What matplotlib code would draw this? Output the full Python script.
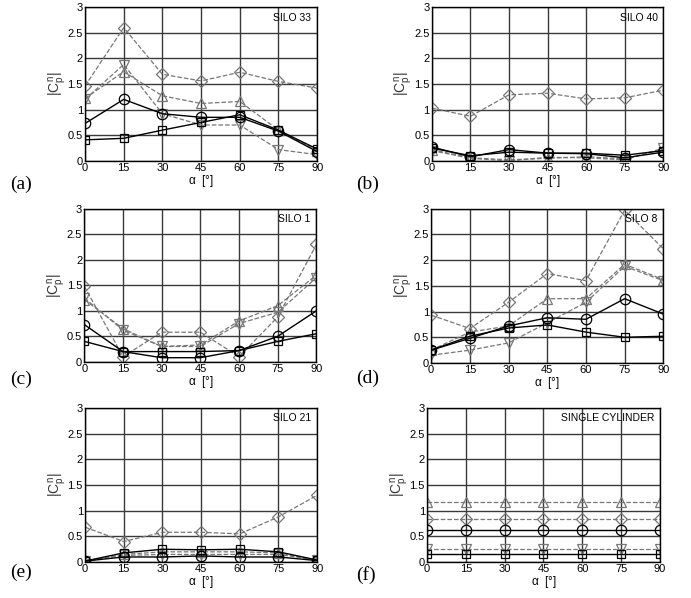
import matplotlib
matplotlib.use('Agg')
import matplotlib.pyplot as plt

# angle of attack
alpha = [0, 15, 30, 45, 60, 75, 90]

# (a) SILO 33
s33_circ = [0.73, 1.20, 0.92, 0.85, 0.85, 0.58, 0.18]
s33_sq = [0.41, 0.44, 0.60, 0.75, 0.90, 0.60, 0.23]
s33_dia = [1.46, 2.60, 1.69, 1.56, 1.73, 1.55, 1.42]
s33_tup = [1.22, 1.74, 1.27, 1.12, 1.16, 0.60, 0.20]
s33_tdn = [1.20, 1.88, 0.92, 0.70, 0.70, 0.22, 0.12]

# (b) SILO 40
s40_circ = [0.27, 0.08, 0.22, 0.15, 0.14, 0.06, 0.17]
s40_sq = [0.25, 0.10, 0.17, 0.15, 0.15, 0.11, 0.20]
s40_dia = [1.03, 0.87, 1.29, 1.32, 1.21, 1.23, 1.38]
s40_tup = [0.22, 0.06, 0.02, 0.05, 0.08, 0.04, 0.22]
s40_tdn = [0.20, 0.05, 0.00, 0.07, 0.06, 0.02, 0.25]

# (c) SILO 1
s1_circ = [0.73, 0.20, 0.08, 0.08, 0.22, 0.50, 1.00]
s1_sq = [0.40, 0.20, 0.20, 0.20, 0.22, 0.40, 0.55]
s1_dia = [1.48, 0.10, 0.58, 0.58, 0.10, 0.88, 2.30]
s1_tup = [1.22, 0.65, 0.30, 0.33, 0.80, 1.10, 1.70]
s1_tdn = [1.25, 0.62, 0.30, 0.30, 0.75, 0.97, 1.65]

# (d) SILO 8
s8_circ = [0.25, 0.48, 0.72, 0.88, 0.85, 1.25, 0.95]
s8_sq = [0.25, 0.52, 0.68, 0.74, 0.60, 0.50, 0.52]
s8_dia = [0.93, 0.67, 1.18, 1.74, 1.60, 2.97, 2.22]
s8_tup = [0.25, 0.60, 0.72, 1.25, 1.25, 1.92, 1.62]
s8_tdn = [0.15, 0.25, 0.39, 0.78, 1.18, 1.88, 1.60]

# (e) SILO 21
s21_circ = [0.02, 0.10, 0.10, 0.12, 0.10, 0.10, 0.03]
s21_sq = [0.02, 0.18, 0.25, 0.24, 0.25, 0.20, 0.04]
s21_dia = [0.68, 0.40, 0.58, 0.58, 0.55, 0.88, 1.30]
s21_tup = [0.02, 0.15, 0.20, 0.20, 0.20, 0.18, 0.04]
s21_tdn = [0.02, 0.13, 0.15, 0.15, 0.15, 0.15, 0.04]

# (f) single cylinder
cyl_circ = [0.62] * 7
cyl_sq = [0.16] * 7
cyl_dia = [0.84] * 7
cyl_tup = [1.16] * 7
cyl_tdn = [0.25] * 7

# label, title, axes rect, panel-letter position (figure fraction)
panels = [
    ('(a)', 'SILO 33', [0.123, 0.731, 0.336, 0.257], (0.015, 0.692), s33_circ, s33_sq, s33_dia, s33_tup, s33_tdn),
    ('(b)', 'SILO 40', [0.625, 0.731, 0.335, 0.257], (0.515, 0.692), s40_circ, s40_sq, s40_dia, s40_tup, s40_tdn),
    ('(c)', 'SILO 1', [0.122, 0.395, 0.336, 0.256], (0.015, 0.365), s1_circ, s1_sq, s1_dia, s1_tup, s1_tdn),
    ('(d)', 'SILO 8', [0.624, 0.393, 0.336, 0.258], (0.515, 0.368), s8_circ, s8_sq, s8_dia, s8_tup, s8_tdn),
    ('(e)', 'SILO 21', [0.123, 0.060, 0.336, 0.258], (0.015, 0.043), s21_circ, s21_sq, s21_dia, s21_tup, s21_tdn),
    ('(f)', 'SINGLE CYLINDER', [0.618, 0.060, 0.337, 0.258], (0.515, 0.038), cyl_circ, cyl_sq, cyl_dia, cyl_tup, cyl_tdn),
]

plt.rcParams['font.family'] = ['Liberation Sans', 'DejaVu Sans']
plt.rcParams['mathtext.fontset'] = 'custom'
plt.rcParams['mathtext.rm'] = 'Liberation Sans'
plt.rcParams['mathtext.it'] = 'Liberation Sans'

gray = '#777777'
fig = plt.figure(figsize=(6.91, 5.98), dpi=100)

for lab, name, pos, lpos, circ, sq, dia, tup, tdn in panels:
    ax = fig.add_axes(pos)
    # dashed gray series first
    ax.plot(alpha, dia, '--', color=gray, lw=0.9, marker='D', ms=6, mfc='none', mec=gray, mew=0.9)
    ax.plot(alpha, tup, '--', color=gray, lw=0.9, marker='^', ms=7.5, mfc='none', mec=gray, mew=0.9)
    ax.plot(alpha, tdn, '--', color=gray, lw=0.9, marker='v', ms=7.5, mfc='none', mec=gray, mew=0.9)
    # solid black series
    ax.plot(alpha, circ, '-', color='k', lw=1.0, marker='o', ms=7.5, mfc='none', mec='k', mew=0.9)
    ax.plot(alpha, sq, '-', color='k', lw=1.0, marker='s', ms=6, mfc='none', mec='k', mew=0.9)

    ax.set_xlim(0, 90)
    ax.set_ylim(0, 3)
    ax.set_xticks(alpha)
    ax.set_yticks([0, 0.5, 1, 1.5, 2, 2.5, 3])
    ax.set_yticklabels(['0', '0.5', '1', '1.5', '2', '2.5', '3'])
    ax.grid(True, color='#3a3a3a', lw=1.0)
    ax.set_axisbelow(True)
    ax.tick_params(direction='in', length=0, labelsize=8, pad=1.5)
    for sp in ax.spines.values():
        sp.set_linewidth(1.0)
    ax.set_xlabel(r'$\alpha$  [°]', fontsize=8.5, labelpad=0)
    ax.set_ylabel(r'$|C_p^n|$', fontsize=10, labelpad=0, color='#333333')
    ax.text(0.975, 0.965, name, transform=ax.transAxes, ha='right', va='top', fontsize=7.5)
    fig.text(lpos[0], lpos[1], lab, family='Liberation Serif', fontsize=14, ha='left', va='center')

plt.savefig('out.png', dpi=100)
